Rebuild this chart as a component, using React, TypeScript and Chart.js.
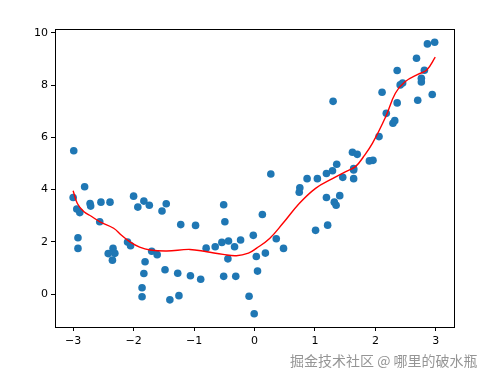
import React, { useEffect, useRef } from "react";
import { Chart, registerables } from "chart.js";

Chart.register(...registerables);

const xTicks = [-3, -2, -1, 0, 1, 2, 3];
const yTicks = [0, 2, 4, 6, 8, 10];

const scatterX = [
  -3.0, -2.81, -2.94, -2.89, -2.72, -2.71, -2.54, -2.39, -2.56, -2.92, -2.92,
  -2.0, -1.93, -1.83, -1.74, -1.46, -1.53, -1.22, -0.975, -2.1, -2.05, -2.34,
  -2.42, -2.31, -2.35, -1.7, -1.61, -1.81, -1.83, -1.86, -1.86, -1.48, -1.4,
  -1.25, -1.27, -1.06, -0.89, -0.8, -0.65, -0.54, -0.43, -0.51, -0.49, -0.33,
  -0.23, -0.44, -0.51, -0.31, -0.09, -0.005, -0.02, -2.99,
  0.27, 0.13, 0.03, 0.18, 0.36, 0.48, 0.05, 0.75, 0.74, 0.87, 1.04, 1.19,
  1.01, 1.21, 1.19, 1.32, 1.35, 1.41, 1.46, 1.64, 1.64,
  1.29, 1.36, 1.3, 1.64, 1.62, 1.7, 1.9, 1.96, 2.06, 2.18, 2.29, 2.32, 2.11,
  2.36, 2.36, 2.41, 2.45, 2.68, 2.81, 2.76, 2.76, 2.7, 2.86, 2.98, 2.94,
];
const scatterY = [
  3.7, 4.11, 3.26, 3.12, 3.47, 3.37, 3.52, 3.52, 2.77, 2.16, 1.75,
  3.75, 3.33, 3.56, 3.4, 3.46, 3.18, 2.66, 2.63, 1.99, 1.85, 1.75,
  1.55, 1.56, 1.3, 1.64, 1.51, 1.24, 0.79, 0.24, -0.1, 0.93, -0.22,
  -0.06, 0.8, 0.7, 0.57, 1.76, 1.81, 1.98, 2.03, 3.42, 2.77, 1.81,
  2.07, 1.35, 0.68, 0.68, -0.08, -0.75, 2.25, 5.49,
  4.6, 3.05, 1.44, 1.57, 2.12, 1.75, 0.88, 4.07, 3.9, 4.42, 4.42, 4.62,
  2.44, 2.64, 3.7, 3.52, 3.4, 3.77, 4.47, 4.42, 4.75,
  4.72, 4.97, 7.38, 4.81, 5.43, 5.35, 5.1, 5.12, 6.03, 6.92, 6.54, 6.64, 7.73,
  7.32, 8.56, 8.01, 8.08, 9.03, 8.57, 8.26, 8.12, 7.42, 9.58, 9.64, 7.64,
];

const curveX = [
  -3.0, -2.93, -2.82, -2.7, -2.56, -2.33, -2.2, -2.06, -1.9, -1.73, -1.45,
  -1.07, -0.79, -0.52, -0.3, -0.1, 0.03, 0.25, 0.47, 0.74, 1.01, 1.29, 1.51,
  1.67, 1.8, 1.95, 2.17, 2.33, 2.49, 2.71, 2.85, 2.99,
];
const curveY = [
  3.96, 3.47, 3.15, 2.98, 2.77, 2.52, 2.25, 2.0, 1.8, 1.69, 1.65,
  1.71, 1.62, 1.52, 1.47, 1.57, 1.75, 2.13, 2.71, 3.47, 4.05, 4.42, 4.69,
  4.88, 5.25, 5.77, 6.79, 7.69, 8.13, 8.42, 8.58, 9.07,
];

const fmt = (v: number) => String(v).replace("-", "\u2212");

const boxPlugin = {
  id: "box",
  afterDraw(chart: any) {
    const { ctx, chartArea } = chart;
    ctx.save();
    ctx.strokeStyle = "#000";
    ctx.lineWidth = 1;
    ctx.strokeRect(
      Math.round(chartArea.left) + 0.5,
      Math.round(chartArea.top) + 0.5,
      Math.round(chartArea.right - chartArea.left),
      Math.round(chartArea.bottom - chartArea.top)
    );
    ctx.restore();
  },
};

export default function App() {
  const ref = useRef<HTMLCanvasElement | null>(null);
  useEffect(() => {
    if (!ref.current) return;
    const font = { family: "DejaVu Sans", size: 11 };
    const chart = new Chart(ref.current, {
      type: "scatter",
      data: {
        datasets: [
          {
            type: "scatter",
            data: scatterX.map((x, i) => ({ x, y: scatterY[i] })),
            backgroundColor: "#1f77b4",
            borderColor: "#1f77b4",
            pointRadius: 3.8,
            borderWidth: 0,
            order: 2,
          },
          {
            type: "line",
            data: curveX.map((x, i) => ({ x, y: curveY[i] })),
            borderColor: "#ff0000",
            borderWidth: 1.4,
            pointRadius: 0,
            tension: 0.4,
            fill: false,
            order: 1,
          } as any,
        ],
      },
      options: {
        animation: false,
        responsive: false,
        maintainAspectRatio: false,
        layout: { padding: { top: 29, right: 36, left: 0, bottom: 0 } },
        plugins: { legend: { display: false }, tooltip: { enabled: false } },
        scales: {
          x: {
            type: "linear",
            min: -3.3,
            max: 3.3,
            afterBuildTicks: (s: any) => {
              s.ticks = xTicks.map((v) => ({ value: v }));
            },
            afterFit: (s: any) => {
              s.height = 54;
            },
            grid: {
              display: true,
              drawOnChartArea: false,
              tickLength: 4,
              tickColor: "#000",
              color: "#000",
            },
            border: { display: false },
            ticks: {
              color: "#000",
              font,
              padding: 4,
              maxRotation: 0,
              autoSkip: false,
              callback: (v: any) => fmt(v),
            },
          },
          y: {
            type: "linear",
            min: -1.26,
            max: 10.15,
            afterBuildTicks: (s: any) => {
              s.ticks = yTicks.map((v) => ({ value: v }));
            },
            afterFit: (s: any) => {
              s.width = 55;
            },
            grid: {
              display: true,
              drawOnChartArea: false,
              tickLength: 4,
              tickColor: "#000",
              color: "#000",
            },
            border: { display: false },
            ticks: {
              color: "#000",
              font,
              padding: 3,
              autoSkip: false,
              callback: (v: any) => fmt(v),
            },
          },
        },
      },
      plugins: [boxPlugin],
    });
    return () => chart.destroy();
  }, []);

  return (
    <div
      style={{
        position: "fixed",
        left: 0,
        top: 0,
        width: 490,
        height: 381,
        background: "#fff",
      }}
    >
      <canvas ref={ref} width={490} height={381} style={{ width: 490, height: 381 }} />
      <div
        style={{
          position: "absolute",
          left: 290,
          top: 350,
          fontFamily: "'Noto Sans CJK SC', sans-serif",
          fontSize: 14,
          color: "#959595",
          whiteSpace: "nowrap",
        }}
      >
        掘金技术社区 @ 哪里的破水瓶
      </div>
    </div>
  );
}
